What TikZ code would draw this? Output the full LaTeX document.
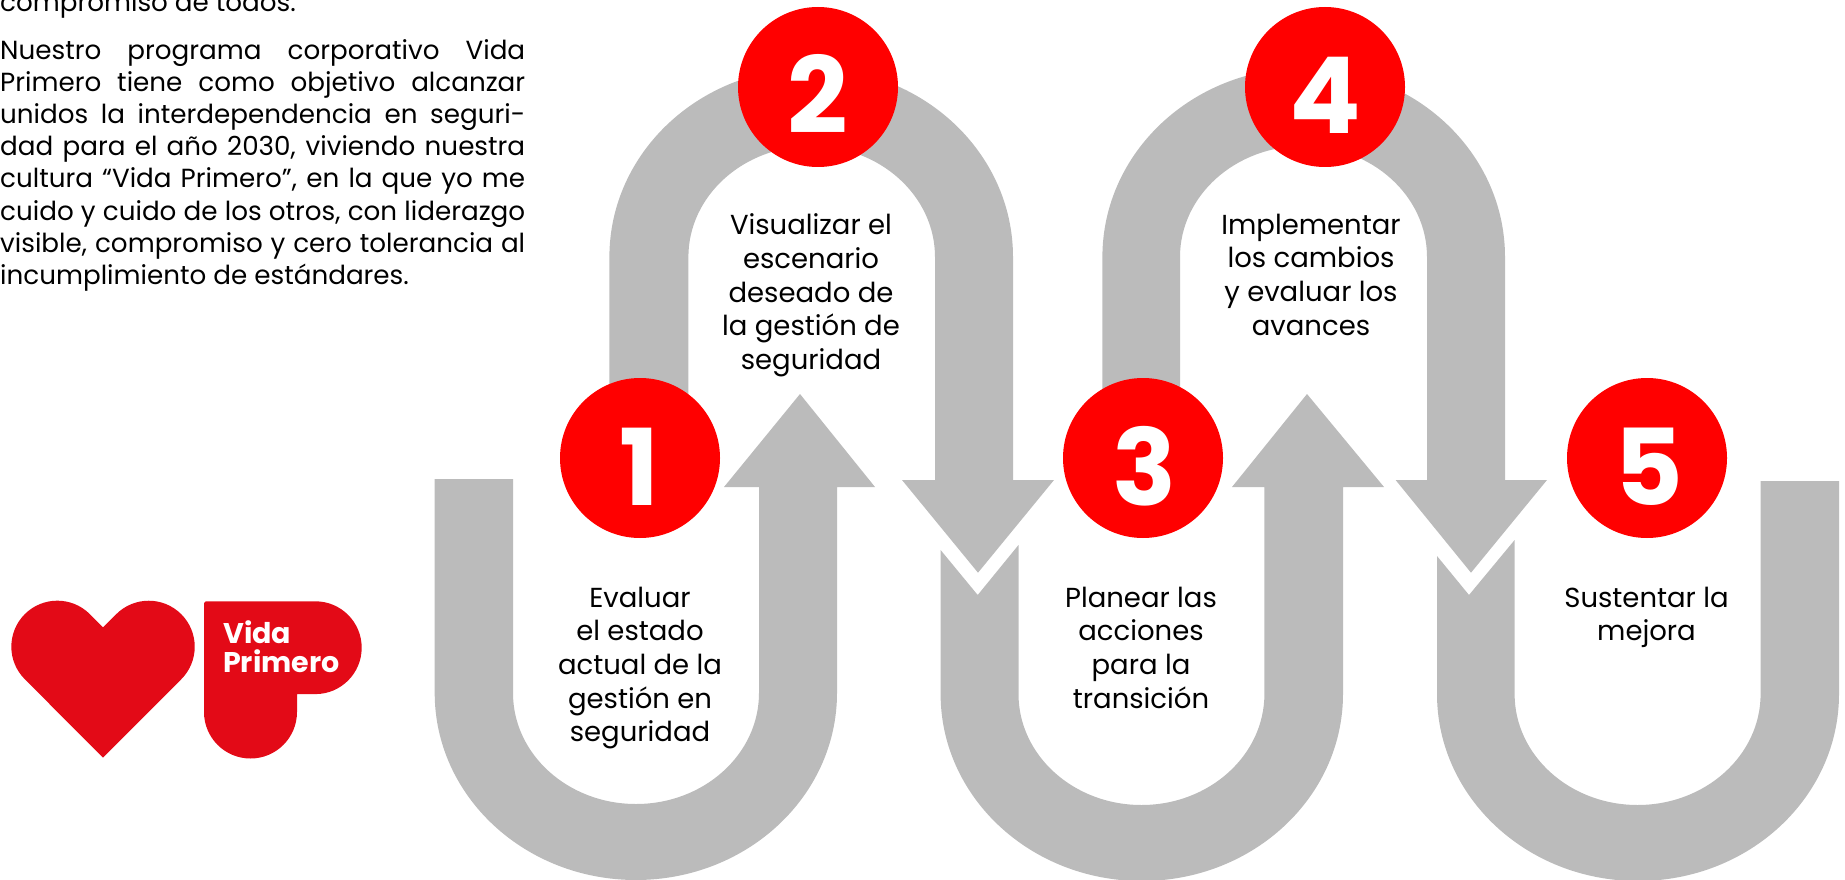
\documentclass[tikz,border=0pt]{standalone}
\usepackage{fontspec}
\setmainfont{Poppins}
\usetikzlibrary{positioning}
\definecolor{bandgray}{HTML}{BBBBBB}
\definecolor{numred}{HTML}{FF0000}
\definecolor{logored}{HTML}{E30A17}
\newcommand{\jline}[1]{\makebox[525pt][s]{#1}}
\tikzset{
  band/.style={fill=bandgray, draw=none},
  numcircle/.style={circle, fill=numred, minimum size=160pt, inner sep=0pt},
  numtext/.style={anchor=base, text=white, inner sep=0pt, font=\fontsize{106}{106}\selectfont\bfseries},
  steptext/.style={anchor=north, align=center, inner sep=0pt, font=\fontsize{27.5}{33.7}\selectfont},
  paratext/.style={anchor=north west, align=left, inner sep=0pt, font=\fontsize{26.2}{32.2}\selectfont},
  logotext/.style={anchor=base west, text=white, inner sep=0pt, font=\fontsize{28.5}{29}\selectfont\bfseries},
}
\begin{document}
\begin{tikzpicture}[x=1pt,y=-1pt]
    \useasboundingbox (0,0) rectangle (1845,880);
    % first U with the arrow going up
    \fill[band] (434.7,479) -- (513,479) -- (513,693) arc[start angle=180, end angle=360, x radius=123pt, y radius=111pt] -- (759,487)
      -- (724,487) -- (800,394) -- (875,487) -- (837,487) -- (837,693) arc[start angle=0, end angle=-180, x radius=201.15pt, y radius=187pt] -- cycle;
    % first arch with the arrow going down
    \fill[band] (609.4,458) -- (609.4,257) arc[start angle=180, end angle=0, x radius=201.8pt, y radius=189pt] -- (1013,480)
      -- (1054,480) -- (978,572.7) -- (902,480) -- (935,480) -- (935,257) arc[start angle=0, end angle=180, x radius=123.3pt, y radius=111pt] -- (688.4,458) -- cycle;
    % second U
    \fill[band] (940.6,550) -- (977.7,595) -- (1018.5,545) -- (1018.5,694) arc[start angle=180, end angle=360, x radius=122.95pt, y radius=111pt] -- (1264.4,487)
      -- (1232,487) -- (1307,394) -- (1384,487) -- (1343,487) -- (1343,694) arc[start angle=0, end angle=-180, x radius=201.2pt, y radius=187pt] -- cycle;
    % second arch
    \fill[band] (1102.4,458) -- (1102.4,257) arc[start angle=180, end angle=0, x radius=201.3pt, y radius=189pt] -- (1505,480)
      -- (1547,480) -- (1471,572.7) -- (1395.6,480) -- (1427,480) -- (1427,257) arc[start angle=0, end angle=180, x radius=123.5pt, y radius=111pt] -- (1180,458) -- cycle;
    % last U
    \fill[band] (1437,556) -- (1469,595) -- (1514.6,540) -- (1514.6,694) arc[start angle=180, end angle=360, x radius=123pt, y radius=111pt] -- (1760.6,481)
      -- (1839,481) -- (1839,694) arc[start angle=0, end angle=-180, x radius=201pt, y radius=187pt] -- cycle;

    \node[numcircle] (one) at (640,458) {};
    \node[numcircle] (two) at (818,87) {};
    \node[numcircle] (three) at (1143,458) {};
    \node[numcircle] (four) at (1325,87) {};
    \node[numcircle] (five) at (1647,458) {};
    \node[numtext] (none) at (639.5,505) {1};
    \node[numtext] (ntwo) at (818,134) {2};
    \node[numtext] (nthree) at (1144.5,505) {3};
    \node[numtext] (nfour) at (1325,134) {4};
    \node[numtext] (nfive) at (1648.5,505) {5};

    \node[steptext] (evaluar) at (640,586.5) {Evaluar\\el estado\\actual de la\\gestión en\\seguridad};
    \node[steptext] (visualizar) at (811,213.5) {Visualizar el\\escenario\\deseado de\\la gestión de\\seguridad};
    \node[steptext] (planear) at (1141,586.5) {Planear las\\acciones\\para la\\transición};
    \node[steptext] (implementar) at (1311,213.5) {Implementar\\los cambios\\y evaluar los\\avances};
    \node[steptext] (sustentar) at (1646.5,586.5) {Sustentar la\\mejora};

    \node[paratext] (compromiso) at (0,-9) {compromiso de todos.};
    \node[paratext] (programa) at (0,39) {\jline{Nuestro programa corporativo Vida}\\\jline{Primero tiene como objetivo alcanzar}\\\jline{unidos la interdependencia en seguri-}\\\jline{dad para el año 2030, viviendo nuestra}\\\jline{cultura “Vida Primero”, en la que yo me}\\\jline{cuido y cuido de los otros, con liderazgo}\\\jline{visible, compromiso y cero tolerancia al}\\incumplimiento de estándares.};

    % logo
    \fill[logored] (103,757.7) -- (24.8,679.2) arc[start angle=225, end angle=45, radius=46pt] -- (103,627.4) -- (116.2,614.2)
      arc[start angle=135, end angle=-45, radius=46pt] -- cycle;
    \fill[logored] (204,603) arc[start angle=180, end angle=90, radius=1.7pt] -- (315.3,601.3) arc[start angle=90, end angle=-90, radius=46.4pt]
      -- (297,694.1) -- (297,712) arc[start angle=0, end angle=-180, radius=46.5pt] -- cycle;
    \node[logotext] (vida) at (223,643) {Vida};
    \node[logotext] (primero) at (223,672) {Primero};
\end{tikzpicture}
\end{document}
